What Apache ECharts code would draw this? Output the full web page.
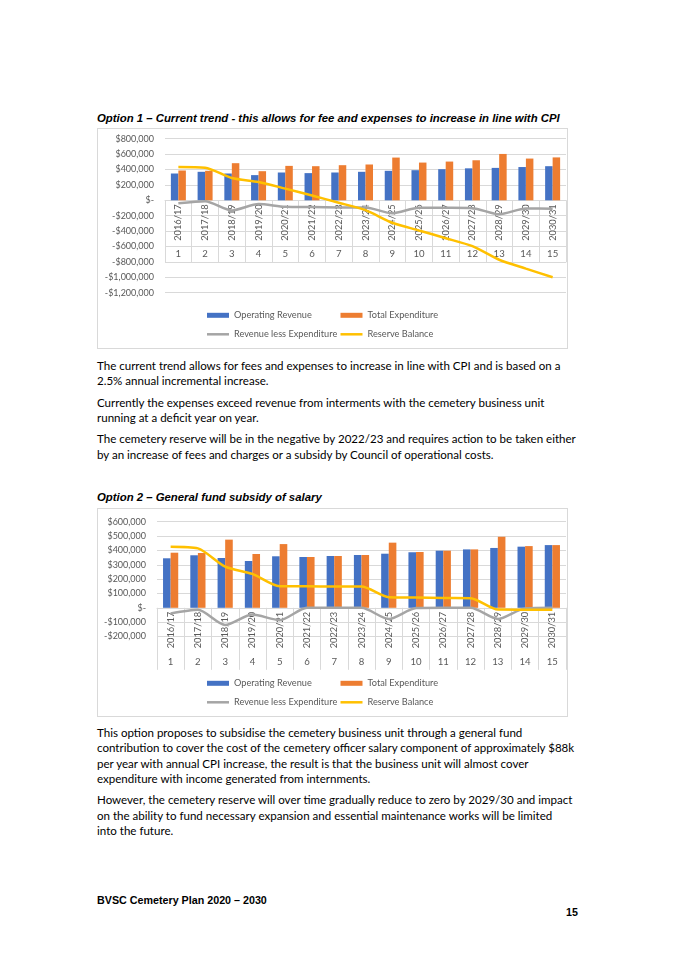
<!DOCTYPE html>
<html>
<head>
<meta charset="utf-8">
<script src="https://cdn.jsdelivr.net/npm/echarts@6/dist/echarts.min.js"></script>
<style>
  html, body { margin:0; padding:0; background:#fff; }
  body { width:675px; height:955px; position:relative; overflow:hidden; font-family: Lato, "Liberation Sans", sans-serif; color:#000; }
  .t { position:absolute; white-space:nowrap; line-height:14px; height:14px; }
  .title { font-family:"Liberation Sans", Arial, sans-serif; font-weight:bold; font-style:italic; }
  .body { font-family: Lato, "Liberation Sans", sans-serif; }
  .foot { font-family:"Liberation Sans", Arial, sans-serif; font-weight:bold; }
  .box { position:absolute; box-sizing:border-box; border:1px solid #d9d9d9; }
  .chart { position:absolute; }
</style>
</head>
<body>
<div class="t title" id="title1" style="left:97px; top:111px;">Option 1 – Current trend - this allows for fee and expenses to increase in line with CPI</div>
<div class="box" style="left:97px; top:128px; width:471px; height:221px;"></div>
<div class="chart" id="chart1" style="left:97px; top:128px; width:471px; height:221px;"></div>

<div class="t body" id="fitline" style="left:97px; top:359px;">The current trend allows for fees and expenses to increase in line with CPI and is based on a</div>
<div class="t body" style="left:97px; top:374px;">2.5% annual incremental increase.</div>
<div class="t body" style="left:97px; top:395.5px;">Currently the expenses exceed revenue from interments with the cemetery business unit</div>
<div class="t body" style="left:97px; top:411px;">running at a deficit year on year.</div>
<div class="t body" style="left:97px; top:432px;">The cemetery reserve will be in the negative by 2022/23 and requires action to be taken either</div>
<div class="t body" style="left:97px; top:447.5px;">by an increase of fees and charges or a subsidy by Council of operational costs.</div>

<div class="t title" id="title2" style="left:97px; top:489.5px;">Option 2 – General fund subsidy of salary</div>
<div class="box" style="left:97px; top:508px; width:471px; height:209px;"></div>
<div class="chart" id="chart2" style="left:97px; top:508px; width:471px; height:209px;"></div>

<div class="t body" style="left:97px; top:725.7px;">This option proposes to subsidise the cemetery business unit through a general fund</div>
<div class="t body" style="left:97px; top:741.3px;">contribution to cover the cost of the cemetery officer salary component of approximately $88k</div>
<div class="t body" style="left:97px; top:757px;">per year with annual CPI increase, the result is that the business unit will almost cover</div>
<div class="t body" style="left:97px; top:772.3px;">expenditure with income generated from internments.</div>
<div class="t body" style="left:97px; top:793.3px;">However, the cemetery reserve will over time gradually reduce to zero by 2029/30 and impact</div>
<div class="t body" style="left:97px; top:808.8px;">on the ability to fund necessary expansion and essential maintenance works will be limited</div>
<div class="t body" style="left:97px; top:824.3px;">into the future.</div>

<div class="t foot" id="footer" style="left:97px; top:893px;">BVSC Cemetery Plan 2020 – 2030</div>
<div class="t foot" id="pagenum" style="left:560px; width:18px; text-align:right; top:905px;">15</div>

<script>
// ---------- data ----------
const years = ['2016/17','2017/18','2018/19','2019/20','2020/21','2021/22','2022/23','2023/24','2024/25','2025/26','2026/27','2027/28','2028/29','2029/30','2030/31'];
const periods = ['1','2','3','4','5','6','7','8','9','10','11','12','13','14','15'];

// Option 1 – current trend
const opt1Revenue     = [348000, 370000, 348000, 327000, 361000, 353000, 361000, 370000, 383000, 391000, 404000, 415000, 421000, 432000, 443000];
const opt1Expenditure = [387000, 383000, 482000, 378000, 447000, 443000, 456000, 465000, 555000, 490000, 503000, 520000, 602000, 542000, 557000];
const opt1Net         = [-39000, -12000, -132000, -49000, -85000, -88000, -92000, -93000, -168000, -96000, -97000, -102000, -181000, -106000, -110000];
const opt1Reserve     = [434000, 424000, 290000, 238000, 152000, 62000, -32000, -128000, -292000, -392000, -492000, -596000, -772000, -888000, -1000000];

// Option 2 – general fund subsidy of salary
const opt2Revenue     = [345000, 366000, 347000, 326000, 359000, 354000, 361000, 368000, 377000, 387000, 398000, 407000, 417000, 426000, 437000];
const opt2Expenditure = [384000, 382000, 475000, 375000, 444000, 354000, 361000, 368000, 454000, 389000, 398000, 407000, 495000, 430000, 437000];
const opt2Net         = [-40000, -14000, -120000, -47000, -86000, 0, 0, 0, -78000, -2000, 0, 0, -78000, -4000, 0];
const opt2Reserve     = [426000, 414000, 287000, 236000, 150000, 150000, 148000, 148000, 74000, 72000, 68000, 67000, -12000, -13000, -14000];

// ---------- text fitting ----------
function fitSize(el, target) {
  const fs = parseFloat(getComputedStyle(el).fontSize);
  const w = el.getBoundingClientRect().width;
  return fs * target / w;
}
(function () {
  const fl = document.getElementById('fitline');
  fl.style.fontSize = '12px';
  const bfs = fitSize(fl, 464);
  document.querySelectorAll('.body').forEach(e => e.style.fontSize = bfs + 'px');
  const t1 = document.getElementById('title1');
  t1.style.fontSize = '11px';
  const tfs = fitSize(t1, 463);
  document.querySelectorAll('.title').forEach(e => e.style.fontSize = tfs + 'px');
  const f = document.getElementById('footer');
  f.style.fontSize = '11px';
  const ffs = fitSize(f, 170);
  document.querySelectorAll('.foot').forEach(e => e.style.fontSize = ffs + 'px');
})();

// ---------- charts ----------
function money(v) {
  if (v === 0) return '$-';
  const s = '$' + String(Math.abs(v)).replace(/\B(?=(\d{3})+(?!\d))/g, ',');
  return v < 0 ? '-' + s : s;
}
const AX = '#595959', GRID = '#d9d9d9', FONT = 'Lato';

function legendItem(name, left, top, isBar) {
  return {
    data: [name], left: left, top: top, padding: 0, orient: 'horizontal',
    itemWidth: 22, itemHeight: isBar ? 5 : 2.5, icon: 'rect',
    textStyle: { color: AX, fontSize: 9.2, fontFamily: FONT, lineHeight: 12 },
    selectedMode: false
  };
}

function build(cfg) {
  return {
    animation: false,
    textStyle: { fontFamily: FONT },
    grid: { left: cfg.left, right: 2, top: cfg.top, bottom: cfg.bottom, containLabel: false, outerBoundsMode: 'none' },
    xAxis: [
      {
        type: 'category', data: years, position: 'bottom', boundaryGap: true, offset: 0,
        axisLine: { show: true, onZero: false, lineStyle: { color: GRID, width: 1 } },
        axisTick: { show: true, length: 62, interval: 0, alignWithLabel: false, lineStyle: { color: GRID, width: 1 } },
        axisLabel: { interval: 0, rotate: 90, margin: 4, fontSize: 9.3, color: AX, fontFamily: FONT, hideOverlap: false },
        splitLine: { show: false }
      },
      {
        type: 'category', data: periods, position: 'bottom', boundaryGap: true, offset: 0,
        axisLine: { show: false, onZero: false },
        axisTick: { show: false },
        axisLabel: { interval: 0, margin: 49, fontSize: 9.6, color: AX, fontFamily: FONT, hideOverlap: false },
        splitLine: { show: false }
      }
    ],
    yAxis: {
      type: 'value', min: cfg.min, max: cfg.max, interval: cfg.interval,
      axisLine: { show: false }, axisTick: { show: false },
      splitLine: { show: true, lineStyle: { color: GRID, width: 1 } },
      axisLabel: { formatter: money, fontSize: 9, color: AX, margin: 11, fontFamily: FONT }
    },
    legend: [
      legendItem('Operating Revenue', 110, cfg.leg1, true),
      legendItem('Total Expenditure', 243.5, cfg.leg1, true),
      legendItem('Revenue less Expenditure', 110, cfg.leg2, false),
      legendItem('Reserve Balance', 243.5, cfg.leg2, false)
    ],
    series: [
      { name: 'Operating Revenue', type: 'bar', data: cfg.rev, barWidth: cfg.bw, barGap: '0%', itemStyle: { color: '#4472C4' } },
      { name: 'Total Expenditure', type: 'bar', data: cfg.exp, barWidth: cfg.bw, barGap: '0%', itemStyle: { color: '#ED7D31' } },
      { name: 'Revenue less Expenditure', type: 'line', data: cfg.net, symbol: 'none', smooth: 0.25,
        lineStyle: { color: '#A5A5A5', width: 2.5 }, itemStyle: { color: '#A5A5A5' } },
      { name: 'Reserve Balance', type: 'line', data: cfg.res, symbol: 'none', smooth: 0.25,
        lineStyle: { color: '#FFC000', width: 2.5 }, itemStyle: { color: '#FFC000' } }
    ]
  };
}

// place the category (table) axes on the zero line of the value axis
function placeOnZero(chart, min) {
  const yZero = chart.convertToPixel({ yAxisIndex: 0 }, 0);
  const yMin = chart.convertToPixel({ yAxisIndex: 0 }, min);
  const off = yZero - yMin;
  chart.setOption({ xAxis: [{ offset: off }, { offset: off }] });
}

const c1 = echarts.init(document.getElementById('chart1'), null, { renderer: 'canvas' });
c1.setOption(build({
  left: 68, top: 10.7, bottom: 56.3, min: -1200000, max: 800000, interval: 200000,
  leg1: 181.3, leg2: 200.3, bw: 7.5,
  rev: opt1Revenue, exp: opt1Expenditure, net: opt1Net, res: opt1Reserve
}));
placeOnZero(c1, -1200000);

const c2 = echarts.init(document.getElementById('chart2'), null, { renderer: 'canvas' });
c2.setOption(build({
  left: 60, top: 13.7, bottom: 80.5, min: -200000, max: 600000, interval: 100000,
  leg1: 169.3, leg2: 188.3, bw: 7.6,
  rev: opt2Revenue, exp: opt2Expenditure, net: opt2Net, res: opt2Reserve
}));
placeOnZero(c2, -200000);
</script>
</body>
</html>
